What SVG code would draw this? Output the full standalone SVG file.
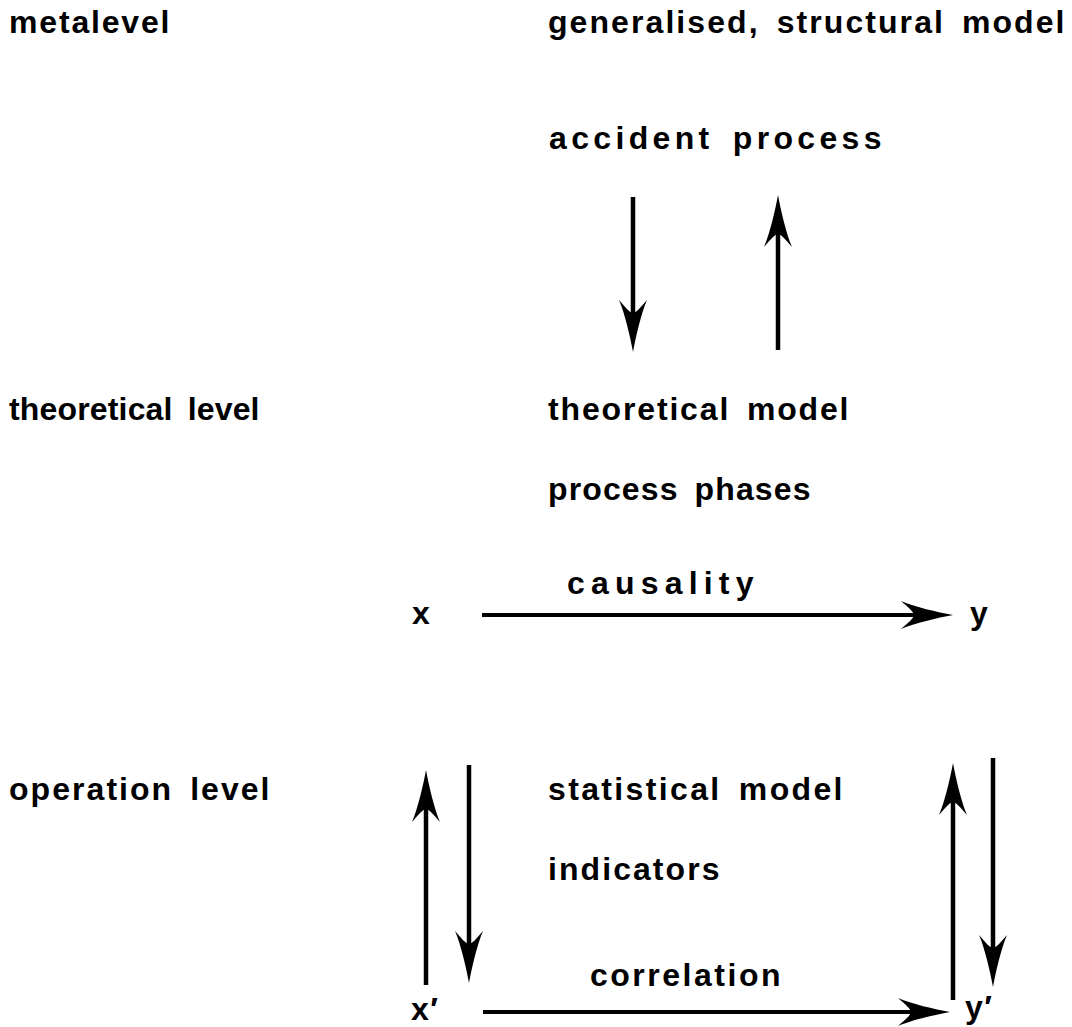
<svg xmlns="http://www.w3.org/2000/svg" width="1072" height="1027" viewBox="0 0 1072 1027">
<style>
  text { font-family: "Liberation Sans", Arial, sans-serif; font-weight: bold; font-size: 32px; fill: #000; letter-spacing: 1.5px; word-spacing: 6px; }
  .conn line { stroke: #000; stroke-width: 4.5; fill: none; }
  .conn line.h { stroke-width: 4; }
</style>
<defs>
  <marker id="arrow" markerUnits="userSpaceOnUse" markerWidth="60" markerHeight="34" refX="20" refY="17" orient="auto">
    <path d="M54,17 C38,14 16,9 2,3 C10,10 14,13 15,17 C14,21 10,24 2,31 C16,25 38,20 54,17 Z" fill="#000"/>
  </marker>
</defs>
<rect width="1072" height="1027" fill="#fff"/>

<g id="label-metalevel"><text x="9" y="33" textLength="162">metalevel</text></g>
<g id="label-theoretical-level"><text x="9" y="420" textLength="252">theoretical level</text></g>
<g id="label-operation-level"><text x="9" y="800" textLength="262">operation level</text></g>

<g id="node-generalised"><text x="548" y="33" textLength="518">generalised, structural model</text></g>
<g id="node-accident"><text x="549" y="149" textLength="334">accident process</text></g>
<g id="node-theoretical-model"><text x="548" y="420" textLength="302">theoretical model</text></g>
<g id="node-process-phases"><text x="548" y="500" textLength="264">process phases</text></g>
<g id="node-x"><text x="412" y="624">x</text></g>
<g id="node-y"><text x="970" y="624">y</text></g>
<g id="label-causality"><text x="567" y="594" textLength="188">causality</text></g>
<g id="node-statistical-model"><text x="548" y="800" textLength="296">statistical model</text></g>
<g id="node-indicators"><text x="548" y="880" textLength="173">indicators</text></g>
<g id="label-correlation"><text x="590" y="986" textLength="192">correlation</text></g>
<g id="node-x-prime"><text x="411" y="1020">x′</text></g>
<g id="node-y-prime"><text x="965" y="1018">y′</text></g>

<g id="connectors" class="conn">
  <line x1="633" y1="197" x2="633" y2="318" marker-end="url(#arrow)"/>
  <line x1="778" y1="350" x2="778" y2="229" marker-end="url(#arrow)"/>
  <line class="h" x1="482" y1="615" x2="919" y2="615" marker-end="url(#arrow)"/>
  <line x1="426" y1="985" x2="426" y2="804" marker-end="url(#arrow)"/>
  <line x1="469" y1="765" x2="469" y2="949" marker-end="url(#arrow)"/>
  <line x1="953" y1="1000" x2="953" y2="797" marker-end="url(#arrow)"/>
  <line x1="993" y1="758" x2="993" y2="953" marker-end="url(#arrow)"/>
  <line class="h" x1="483" y1="1012" x2="916" y2="1012" marker-end="url(#arrow)"/>
</g>
</svg>
